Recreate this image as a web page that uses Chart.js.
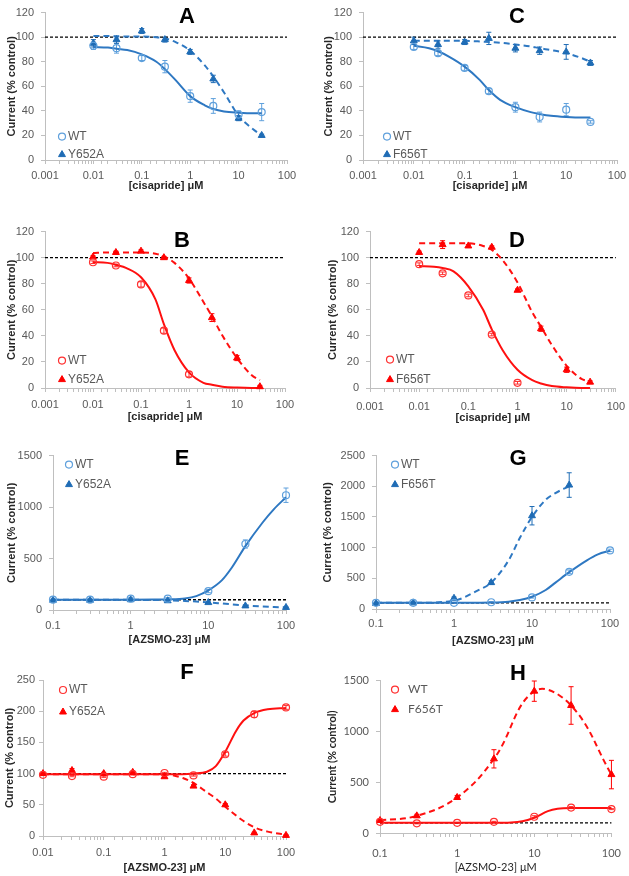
<!DOCTYPE html>
<html lang="en">
<head>
<meta charset="UTF-8" />
<title>Cisapride and AZSMO-23 on WT, Y652A and F656T hERG</title>
<script src="https://cdn.jsdelivr.net/npm/chart.js@4.4.1/dist/chart.umd.min.js"></script>
<style>
  body { margin: 0; background: #fff; }
  #fig { position: relative; width: 629px; height: 876px; overflow: hidden; }
  #fig canvas { position: absolute; }
  .letter { position: absolute; font: bold 22px 'Liberation Sans', Arial, sans-serif; color: #000;
            transform: translate(-50%, -50%); line-height: 1; }
</style>
</head>
<body>
<div id="fig"></div>
<script>
// concentrations (uM)
const cisX = [0.01, 0.03, 0.1, 0.3, 1, 3, 10, 30];
const cisFitX = [0.01, 0.02, 0.03, 0.05, 0.1, 0.2, 0.3, 0.5, 1, 2, 3, 5, 10, 20, 30];
const cisTicks = [0.001, 0.01, 0.1, 1, 10, 100];
const azX = [0.1, 0.3, 1, 3, 10, 30, 100];
const azFitX = [0.1, 0.3, 1, 2, 3, 5, 7, 10, 15, 20, 30, 50, 70, 100];
const azTicks = [0.1, 1, 10, 100];
const azFX = [0.01, 0.03, 0.1, 0.3, 1, 3, 10, 30, 100];
const azFFitX = [0.01, 0.1, 1, 2, 3, 5, 7, 10, 15, 20, 30, 50, 100];
const azFTicks = [0.01, 0.1, 1, 10, 100];

// A: cisapride, WT vs Y652A (blue)
const aWT = [93, 91, 83, 76, 52, 44, 37, 39];
const aWTErr = [3, 4, 2, 5, 5, 6, 3, 7];
const aMut = [95, 98, 105, 98, 88, 66, 34, 20];
const aMutErr = [3, 3, 2, 2, 2, 3, 2, 1];
const aWTFit = [92, 91.5, 90.5, 89.5, 86, 80, 74, 65, 52, 44.5, 41.5, 39.5, 38.5, 38, 38];
const aMutFit = [101, 101, 100.5, 100.5, 100.5, 100, 99, 96, 89, 77, 68, 55, 36, 25, 20];

// C: cisapride, WT vs F656T (blue)
const cWT = [92, 87, 75, 56, 43, 35, 41, 31];
const cWTErr = [2, 2, 2, 2, 4, 4, 5, 1];
const cMut = [97, 94, 96, 99, 91, 89, 88, 79];
const cMutErr = [3, 3, 2, 5, 3, 3, 6, 2];
const cWTFit = [93, 91, 88.5, 84, 76, 65, 57, 49, 43, 39, 37.5, 36, 35, 34.5, 34.5];
const cMutFit = [97, 97, 97, 97, 97, 96.5, 96, 95.5, 94, 92.5, 91, 89.5, 87, 83, 80];

// B: cisapride, WT vs Y652A (red)
const bWT = [96.5, 94, 79.5, 44, 10.5];
const bWTErr = [1, 1, 2, 2, 2];
const bMut = [100.5, 104, 105, 100, 82.5, 54, 23, 1];
const bMutErr = [1, 1, 1, 1, 2, 3, 2, 1];
const bWTFit = [96.5, 96, 94.5, 92, 85, 68, 49, 29, 12, 4, 2.5, 1, 0.3, 0, 0];
const bMutFit = [103.5, 104, 104, 104, 104, 103, 101, 96, 84, 66, 55, 40, 23, 10, 6];

// D: cisapride, WT vs F656T (red)
const dWT = [95, 88, 71, 41, 4];
const dWTErr = [1, 1, 1, 1, 1];
const dMut = [104, 110, 109, 108, 75, 45.5, 14, 4.5];
const dMutErr = [1, 3, 1, 1, 1, 2, 2, 1];
const dWTFit = [93.5, 93, 92, 89.5, 78, 60, 45, 29, 14, 6, 3.5, 1.5, 0.5, 0, 0];
const dMutFit = [111, 111, 111, 111, 111, 109, 106, 98, 81, 58, 47, 33, 17, 7, 5];

// E: AZSMO-23, WT vs Y652A (blue)
const eWT = [100, 100, 110, 110, 183, 641, 1115];
const eWTErr = [5, 5, 10, 10, 15, 40, 70];
const eMut = [95, 95, 100, 90, 72, 40, 25];
const eMutErr = [5, 5, 5, 5, 5, 5, 5];
const eWTFit = [100, 100, 100, 101, 103, 112, 135, 190, 290, 410, 620, 850, 980, 1095];
const eMutFit = [100, 100, 99, 97, 94, 88, 82, 74, 63, 55, 45, 34, 29, 25];

// G: AZSMO-23, WT vs F656T (blue)
const gWT = [100, 100, 100, 110, 188, 606, 955];
const gWTErr = [10, 10, 10, 10, 10, 30, 20];
const gMut = [90, 100, 175, 430, 1520, 2020];
const gMutErr = [10, 10, 20, 30, 150, 200];
const gWTFit = [100, 100, 100, 102, 105, 120, 145, 200, 310, 430, 600, 790, 890, 950];
const gMutFit = [100, 100, 135, 300, 430, 790, 1160, 1500, 1780, 1890, 2000];

// F: AZSMO-23, WT vs Y652A (red)
const fWT = [98, 96, 95, 99, 101, 97, 131, 195, 206];
const fWTErr = [1, 1, 1, 1, 1, 1, 3, 5, 3];
const fMut = [100, 105, 100, 102, 95, 80, 50, 5, 1];
const fMutErr = [1, 3, 2, 2, 1, 2, 2, 1, 1];
const fWTFit = [99, 99, 99, 99, 100, 103, 112, 135, 168, 185, 197, 203, 205];
const fMutFit = [99, 99, 99, 93, 85, 70, 60, 47, 33, 24, 14, 7, 2];

// H: AZSMO-23, WT vs F656T (red)
const hWT = [110, 95, 100, 110, 160, 250, 235];
const hWTErr = [5, 5, 5, 5, 10, 10, 5];
const hMut = [123, 169, 350, 730, 1396, 1255, 575];
const hMutErr = [10, 15, 20, 90, 100, 185, 140];
const hWTFit = [100, 100, 100, 100, 100, 103, 115, 150, 215, 238, 245, 245, 245, 245];

const BLUE = { line: '#2e78c2', open: '#5fa0dc', fill: '#1f6cb5' };
const RED = { line: '#ff1010', open: '#ff3030', fill: '#ff0000' };
const ARIAL = "'Liberation Sans', Arial, sans-serif";
const LATO = "Lato, 'Open Sans', sans-serif";
const PAD_T = 12, PAD_R = 16;
const fig = document.getElementById('fig');

function pts(xs, ys) {
    return ys.map((y, i) => ({ x: xs[i], y: y }));
}

function markerPath(ctx, style, x, y, r) {
    ctx.beginPath();
    if (style === 'triangle') {
        let rad = 0;
        ctx.moveTo(x + Math.sin(rad) * r, y - Math.cos(rad) * r);
        rad += 2 * Math.PI / 3;
        ctx.lineTo(x + Math.sin(rad) * r, y - Math.cos(rad) * r);
        rad += 2 * Math.PI / 3;
        ctx.lineTo(x + Math.sin(rad) * r, y - Math.cos(rad) * r);
        ctx.closePath();
    } else {
        ctx.arc(x, y, r, 0, Math.PI * 2);
    }
}

const errorBars = {
    id: 'errorBars',
    beforeDatasetsDraw(chart) {
        const ctx = chart.ctx, ys = chart.scales.y;
        chart.data.datasets.forEach((ds, i) => {
            if (!ds.errorBars) return;
            const meta = chart.getDatasetMeta(i);
            ctx.save();
            ctx.strokeStyle = ds.pointBorderColor;
            ctx.lineWidth = 1;
            meta.data.forEach((pt, j) => {
                const e = ds.errorBars[j];
                if (!e) return;
                const v = ds.data[j].y;
                const top = ys.getPixelForValue(v + e), bot = ys.getPixelForValue(v - e);
                ctx.beginPath();
                ctx.moveTo(pt.x, top); ctx.lineTo(pt.x, bot);
                ctx.moveTo(pt.x - 2.5, top); ctx.lineTo(pt.x + 2.5, top);
                ctx.moveTo(pt.x - 2.5, bot); ctx.lineTo(pt.x + 2.5, bot);
                ctx.stroke();
            });
            ctx.restore();
        });
    }
};

const innerLegend = {
    id: 'innerLegend',
    afterDraw(chart, args, opts) {
        if (!opts.items) return;
        const ctx = chart.ctx, a = chart.chartArea;
        opts.items.forEach((it, k) => {
            const ds = chart.data.datasets[it.ds];
            const x = a.left + opts.dx, y = a.top + opts.dy + k * opts.gap;
            ctx.save();
            ctx.fillStyle = ds.pointBackgroundColor;
            ctx.strokeStyle = ds.pointBorderColor;
            ctx.lineWidth = ds.pointBorderWidth;
            markerPath(ctx, ds.pointStyle, x, y, ds.pointRadius);
            ctx.fill();
            ctx.stroke();
            ctx.fillStyle = '#595959';
            ctx.font = opts.textFont;
            ctx.textBaseline = 'middle';
            ctx.fillText(it.text, x + opts.textGap, y);
            ctx.restore();
        });
    }
};

Chart.register(errorBars, innerLegend);

function panel(p) {
    const a = p.area;
    const w = a.r - a.l + p.yW + PAD_R, h = a.b - a.t + PAD_T + p.xH;
    const c = document.createElement('canvas');
    c.width = w; c.height = h;
    c.style.left = (a.l - p.yW) + 'px';
    c.style.top = (a.t - PAD_T) + 'px';
    c.style.width = w + 'px';
    c.style.height = h + 'px';
    fig.appendChild(c);

    const L = document.createElement('div');
    L.className = 'letter';
    L.textContent = p.letter;
    L.style.left = p.letterPos[0] + 'px';
    L.style.top = p.letterPos[1] + 'px';
    fig.appendChild(L);

    const col = p.color;
    const datasets = [
        {
            data: pts(p.x, p.wt), errorBars: p.wtErr, showLine: false,
            pointStyle: 'circle', pointRadius: 3.5, pointBorderWidth: 1.2,
            pointBorderColor: col.open, pointBackgroundColor: 'rgba(255,255,255,0)', clip: 8
        },
        {
            data: pts(p.mx || p.x, p.mut), errorBars: p.mutErr, showLine: !!p.mutLine,
            pointStyle: 'triangle', pointRadius: 4, pointBorderWidth: 1,
            pointBorderColor: col.fill, pointBackgroundColor: col.fill,
            borderColor: col.line, borderWidth: 2, borderDash: [6, 4], tension: 0.4, clip: 8
        },
        {
            data: pts(p.fitX, p.wtFit), showLine: true, pointRadius: 0,
            borderColor: col.line, borderWidth: 2, cubicInterpolationMode: 'monotone', clip: 8
        }
    ];
    if (p.mutFit) {
        datasets.push({
            data: pts(p.mutFitX || p.fitX, p.mutFit), showLine: true, pointRadius: 0,
            borderColor: col.line, borderWidth: 2, borderDash: [6, 4],
            cubicInterpolationMode: 'monotone', clip: 8
        });
    }
    datasets.push({
        data: [{ x: p.xMin, y: 100 }, { x: p.xMax, y: 100 }], showLine: true, pointRadius: 0,
        borderColor: '#000', borderWidth: 1.4, borderDash: [3, 2], clip: 8
    });

    const fam = p.font || ARIAL;
    const tickLabels = p.ticks;

    new Chart(c.getContext('2d'), {
        type: 'scatter',
        data: { datasets: datasets },
        options: {
            responsive: false,
            animation: false,
            layout: { padding: { top: PAD_T, right: PAD_R, left: 0, bottom: 0 } },
            plugins: {
                legend: { display: false },
                tooltip: { enabled: false },
                innerLegend: {
                    items: [{ ds: 0, text: 'WT' }, { ds: 1, text: p.mutName }],
                    dx: p.legend[0], dy: p.legend[1], gap: p.legend[2], textGap: p.legend[3] || 6,
                    textFont: '12px ' + fam
                }
            },
            scales: {
                x: {
                    type: 'logarithmic', min: p.xMin, max: p.xMax,
                    afterFit: s => { s.height = p.xH; },
                    border: { color: '#bfbfbf', width: 1 },
                    grid: { display: true, drawOnChartArea: false, drawTicks: true, tickLength: 4, color: '#bfbfbf' },
                    ticks: {
                        autoSkip: false, maxRotation: 0, minRotation: 0, padding: p.tickPad,
                        color: '#595959', font: { family: fam, size: 11 },
                        callback: v => {
                            const m = tickLabels.find(t => Math.abs(Math.log10(t) - Math.log10(v)) < 1e-6);
                            return m !== undefined ? String(m) : '';
                        }
                    },
                    title: {
                        display: true, text: p.xTitle, color: '#262626',
                        font: { family: fam, size: 11, weight: p.xTitleWeight || 'bold' },
                        padding: { top: 0, bottom: 4 }
                    }
                },
                y: {
                    min: 0, max: p.yMax,
                    afterFit: s => { s.width = p.yW; },
                    border: { color: '#bfbfbf', width: 1 },
                    grid: { display: true, drawOnChartArea: false, drawTicks: true, tickLength: 4, color: '#bfbfbf' },
                    ticks: {
                        stepSize: p.yStep, padding: p.yTickPad || 7, color: '#595959', font: { family: fam, size: 11 },
                        callback: v => String(v)
                    },
                    title: {
                        display: true, text: 'Current (% control)', color: '#262626',
                        font: { family: fam, size: 11, weight: 'bold' },
                        padding: { top: p.yTitlePad, bottom: 0 }
                    }
                }
            }
        }
    });
}

const CIS_TITLE = '[cisapride] \u03bcM';
const AZ_TITLE = '[AZSMO-23] \u03bcM';

panel({ letter: 'A', letterPos: [187, 16], color: BLUE, mutName: 'Y652A',
    area: { l: 45, t: 11, r: 287, b: 160 }, yW: 45, xH: 37, tickPad: 5, yTitlePad: 5,
    xMin: 0.001, xMax: 100, ticks: cisTicks, xTitle: CIS_TITLE, yMax: 120, yStep: 20,
    x: cisX, wt: aWT, wtErr: aWTErr, mut: aMut, mutErr: aMutErr,
    fitX: cisFitX, wtFit: aWTFit, mutFit: aMutFit, legend: [17, 124, 18] });

panel({ letter: 'C', letterPos: [517, 16], color: BLUE, mutName: 'F656T',
    area: { l: 363, t: 11, r: 617, b: 160 }, yW: 46, xH: 37, tickPad: 5, yTitlePad: 5,
    xMin: 0.001, xMax: 100, ticks: cisTicks, xTitle: CIS_TITLE, yMax: 120, yStep: 20,
    x: cisX, wt: cWT, wtErr: cWTErr, mut: cMut, mutErr: cMutErr,
    fitX: cisFitX, wtFit: cWTFit, mutFit: cMutFit, legend: [24, 124, 18] });

panel({ letter: 'B', letterPos: [182, 240], color: RED, mutName: 'Y652A',
    area: { l: 45, t: 230, r: 285, b: 388 }, yW: 45, xH: 40, tickPad: 6, yTitlePad: 5,
    xMin: 0.001, xMax: 100, ticks: cisTicks, xTitle: CIS_TITLE, yMax: 120, yStep: 20,
    x: cisX, wt: bWT, wtErr: bWTErr, mut: bMut, mutErr: bMutErr,
    fitX: cisFitX, wtFit: bWTFit, mutFit: bMutFit, legend: [17, 129, 19] });

panel({ letter: 'D', letterPos: [517, 240], color: RED, mutName: 'F656T',
    area: { l: 370, t: 230, r: 617, b: 388 }, yW: 50, xH: 41, tickPad: 8, yTitlePad: 6,
    xMin: 0.001, xMax: 100, ticks: cisTicks, xTitle: CIS_TITLE, yMax: 120, yStep: 20,
    x: cisX, wt: dWT, wtErr: dWTErr, mut: dMut, mutErr: dMutErr,
    fitX: cisFitX, wtFit: dWTFit, mutFit: dMutFit, legend: [20, 128, 20] });

panel({ letter: 'E', letterPos: [182, 458], color: BLUE, mutName: 'Y652A',
    area: { l: 53, t: 454, r: 286, b: 610 }, yW: 53, xH: 41, tickPad: 5, yTitlePad: 5,
    xMin: 0.1, xMax: 100, ticks: azTicks, xTitle: AZ_TITLE, yMax: 1500, yStep: 500,
    x: azX, wt: eWT, wtErr: eWTErr, mut: eMut, mutErr: eMutErr,
    fitX: azFitX, wtFit: eWTFit, mutFit: eMutFit, legend: [16, 9, 20] });

panel({ letter: 'G', letterPos: [518, 458], color: BLUE, mutName: 'F656T',
    area: { l: 376, t: 454, r: 610, b: 609 }, yW: 60, xH: 43, tickPad: 4, yTitlePad: 5,
    xMin: 0.1, xMax: 100, ticks: azTicks, xTitle: AZ_TITLE, yMax: 2500, yStep: 500,
    x: azX, wt: gWT, wtErr: gWTErr, mut: gMut, mutErr: gMutErr,
    fitX: azFitX, wtFit: gWTFit, mutFit: gMutFit, mutFitX: azFitX.slice(0, gMutFit.length),
    legend: [19, 9, 20] });

panel({ letter: 'F', letterPos: [187, 672], color: RED, mutName: 'Y652A',
    area: { l: 43, t: 680, r: 286, b: 836 }, yW: 43, xH: 43, tickPad: 6, yTitlePad: 3, yTickPad: 4,
    xMin: 0.01, xMax: 100, ticks: azFTicks, xTitle: AZ_TITLE, yMax: 250, yStep: 50,
    x: azFX, wt: fWT, wtErr: fWTErr, mut: fMut, mutErr: fMutErr,
    fitX: azFFitX, wtFit: fWTFit, mutFit: fMutFit, legend: [20, 10, 22] });

panel({ letter: 'H', letterPos: [518, 673], color: RED, mutName: 'F656T', font: LATO,
    area: { l: 380, t: 679, r: 615, b: 833 }, yW: 60, xH: 45, tickPad: 10, yTitlePad: 6,
    xMin: 0.1, xMax: 100, ticks: azTicks, xTitle: AZ_TITLE, xTitleWeight: 'normal', yMax: 1500, yStep: 500,
    x: azX, wt: hWT, wtErr: hWTErr, mut: hMut, mutErr: hMutErr, mutLine: true,
    fitX: azFitX, wtFit: hWTFit, legend: [15, 9, 20, 13] });
</script>
</body>
</html>
